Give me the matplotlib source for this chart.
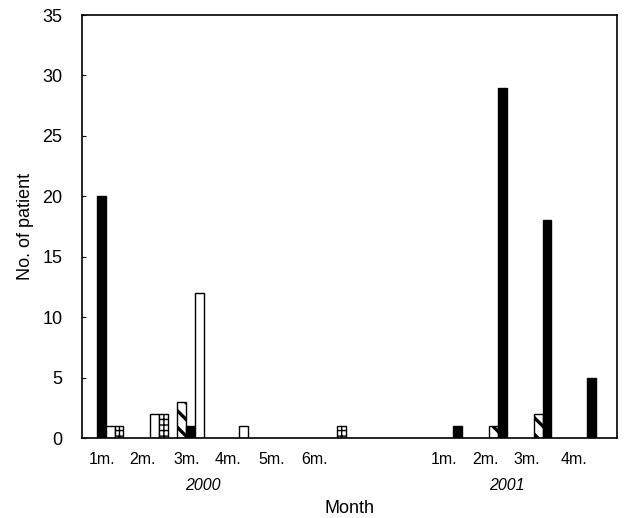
import numpy as np
import matplotlib
matplotlib.use("Agg")
import matplotlib.pyplot as plt

plt.rcParams['font.family'] = ['Liberation Sans', 'DejaVu Sans']

# data
months = ['1m.', '2m.', '3m.', '4m.', '5m.', '6m.', '1m.', '2m.', '3m.', '4m.']
years = ['2000'] * 6 + ['2001'] * 4
diag = [0, 0, 3, 0, 0, 0, 0, 1, 2, 0]
black = [20, 0, 1, 0, 0, 0, 1, 29, 18, 5]
white = [1, 2, 12, 1, 0, 0, 0, 0, 0, 0]
grid = [1, 2, 0, 0, 0, 1, 0, 0, 0, 0]

# group positions (two empty slots between the years)
pos = np.array([i if y == '2000' else i + 2 for i, y in enumerate(years)], float)
w = 0.2

fig = plt.figure(figsize=(6.24, 5.18), dpi=100)
ax = fig.add_axes([0.1314, 0.1544, 0.8574, 0.8166])

def draw(vals, off, color, hatch=None, hlw=1.0):
    vals = np.array(vals, float)
    m = vals > 0
    with plt.rc_context({'hatch.linewidth': hlw}):
        ax.bar(pos[m] + off * w, vals[m], width=w, color=color,
               edgecolor='black', linewidth=1.0, hatch=hatch)

draw(diag, -1, 'white', '\\\\', 2.4)
draw(black, 0, 'black')
draw(white, 1, 'white')
draw(grid, 2, 'white', '+++', 1.0)

ax.set_xlim(-0.43, 11.57)
ax.set_ylim(0, 35)
ax.set_yticks(range(0, 36, 5))
ax.tick_params(axis='y', direction='in', length=3, pad=14, labelsize=13)

# month labels sit a little off the bar groups, as in the original
tick_pos = [0.02, 0.92, 1.91, 2.85, 3.83, 4.78, 7.69, 8.63, 9.55, 10.6]
ax.set_xticks(tick_pos)
ax.set_xticklabels(months, fontsize=11.5)
ax.tick_params(axis='x', length=0, pad=10)

for y, xc in [('2000', 2.29), ('2001', 9.1)]:
    ax.text(xc, -0.112, y, transform=ax.get_xaxis_transform(),
            ha='center', va='center', fontsize=11.5, style='italic')

ax.set_xlabel('Month', fontsize=13, labelpad=24)
ax.set_ylabel('No. of patient', fontsize=13, labelpad=6)

for s in ax.spines.values():
    s.set_linewidth(1.2)

plt.savefig('out.png', dpi=100)
